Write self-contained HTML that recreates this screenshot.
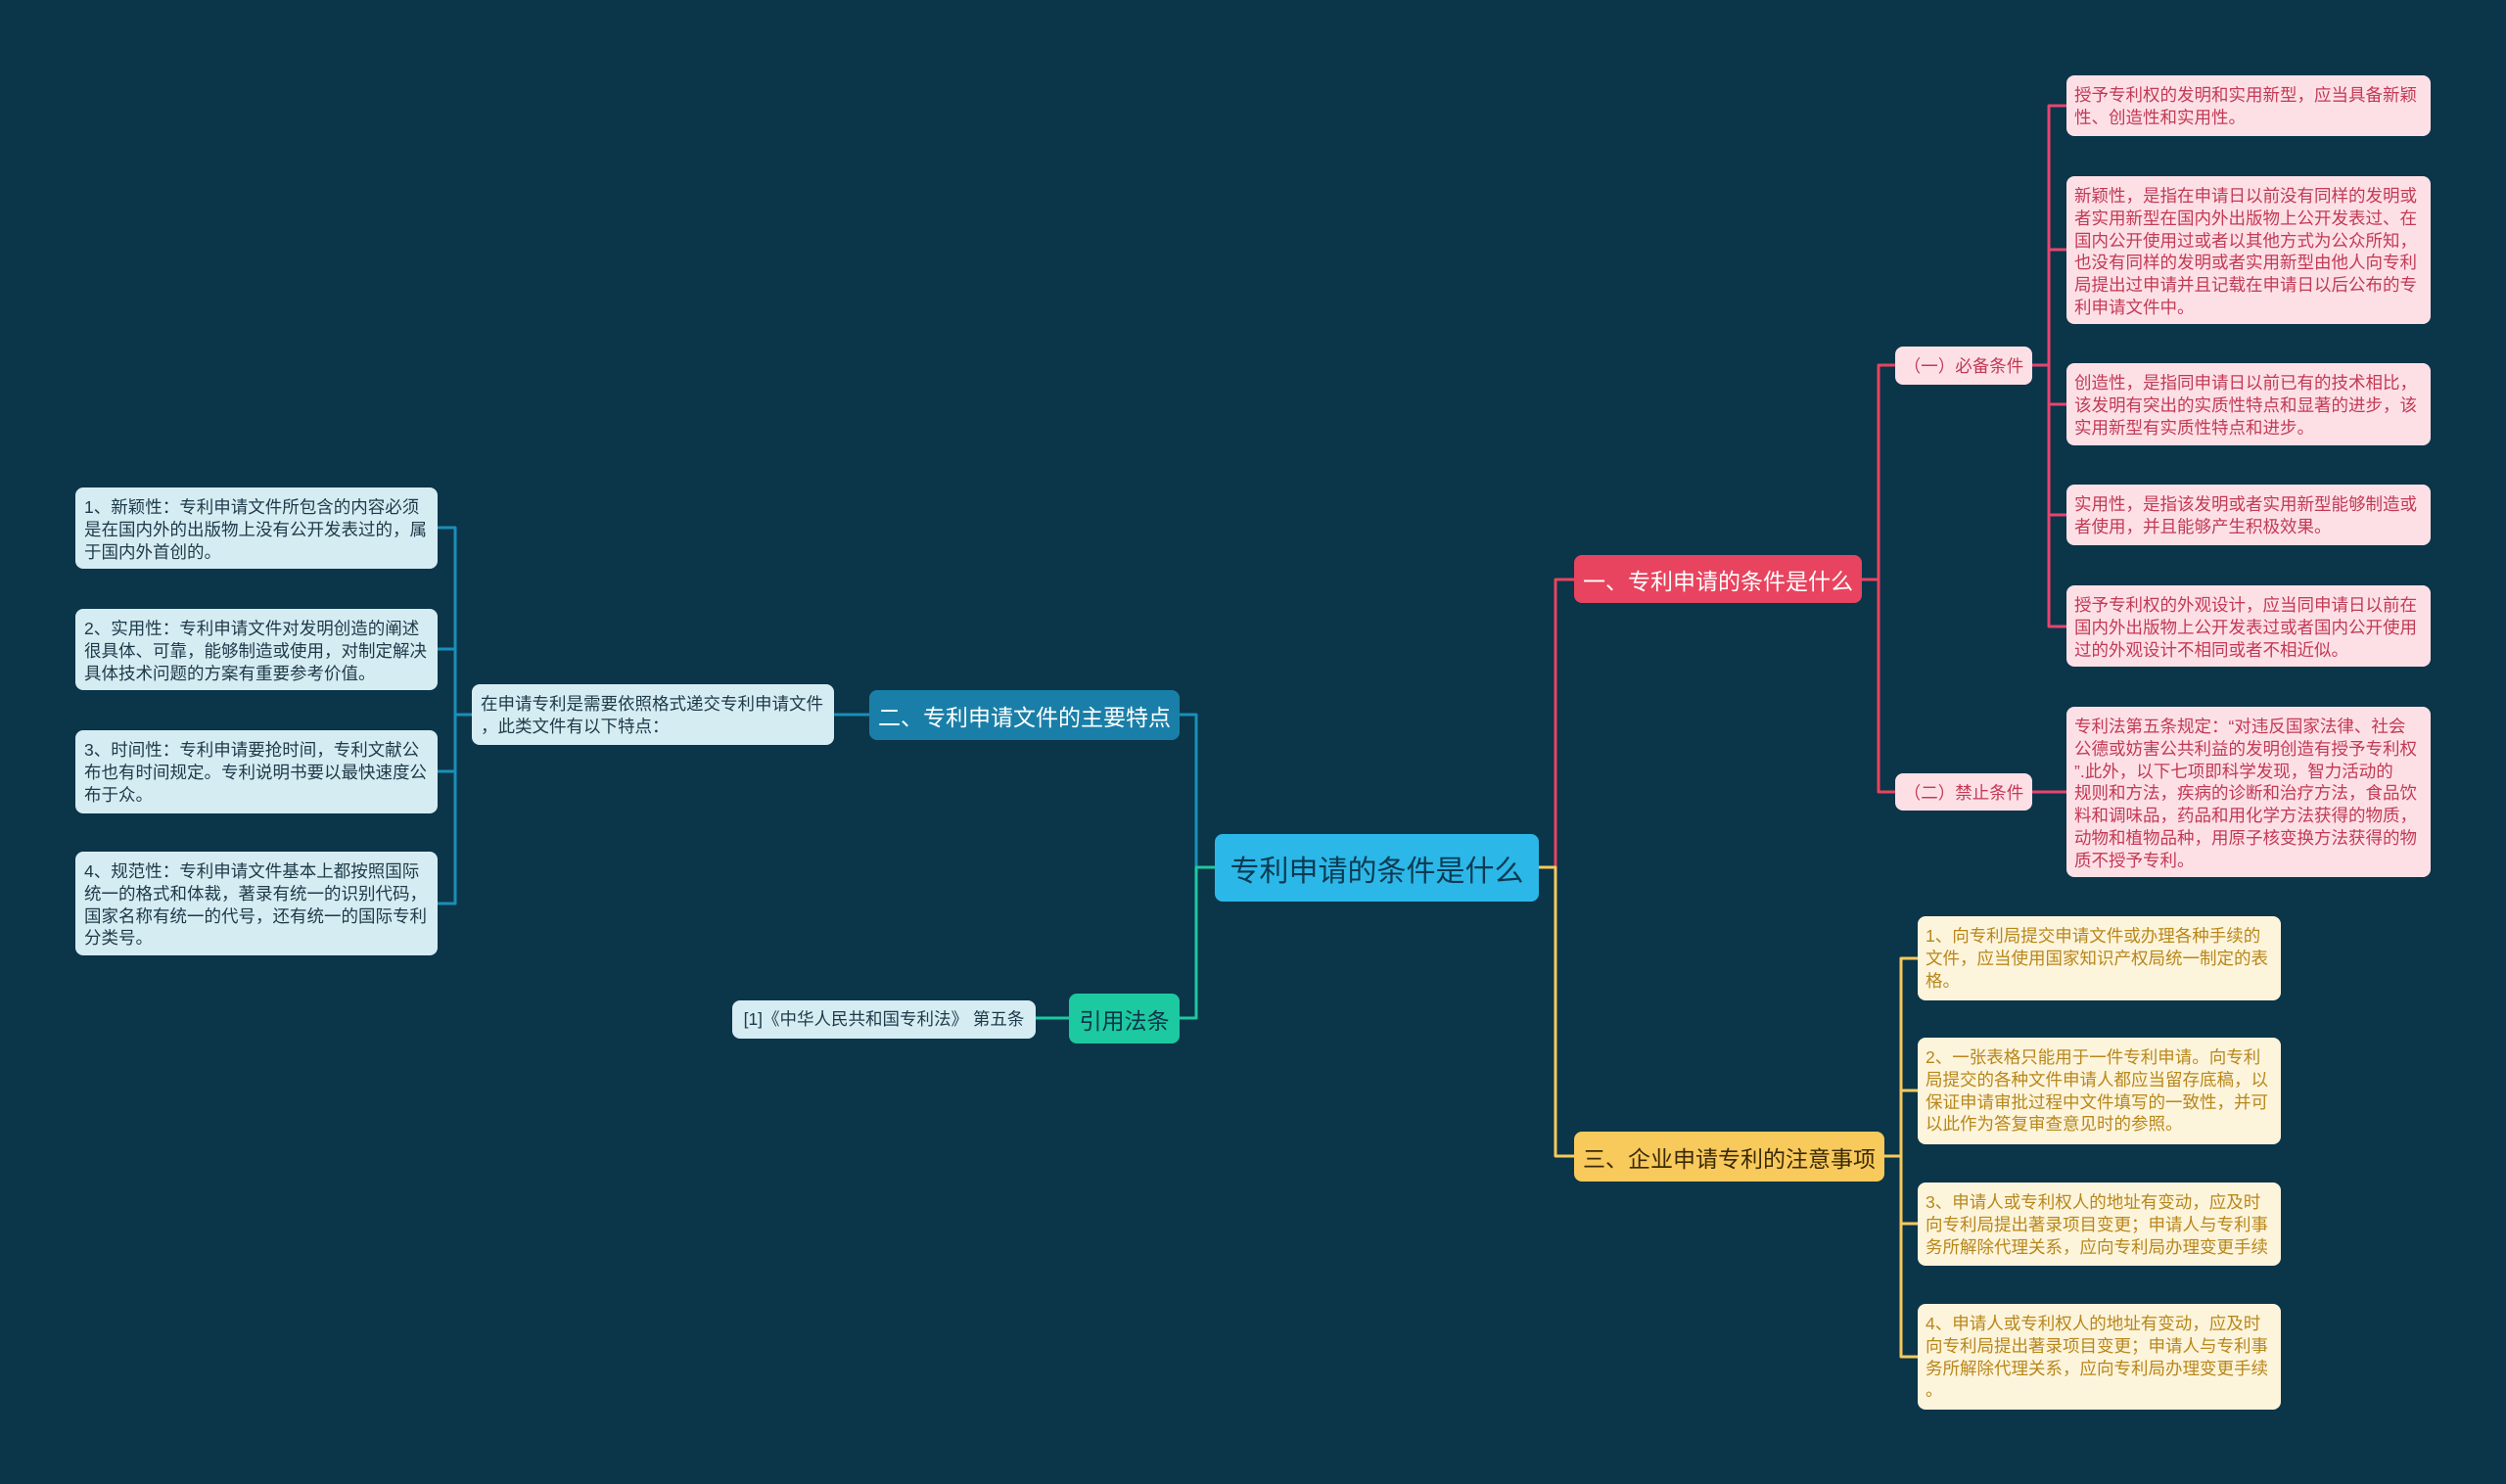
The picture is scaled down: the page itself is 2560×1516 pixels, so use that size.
<!DOCTYPE html>
<html><head><meta charset="utf-8"><style>
body{margin:0;width:2560px;height:1516px;background:#0b3549;position:relative;overflow:hidden;font-family:"Liberation Sans","Noto Sans CJK SC",sans-serif}
.n{position:absolute;box-sizing:border-box;border-radius:8px;white-space:nowrap}
.p{background:#fde0e6;color:#c23a55;font-size:17.5px;line-height:22.8px;padding:9px 8px}
.y{background:#fdf4dc;color:#b8871a;font-size:17.5px;line-height:22.8px;padding:9px 8px}
.b{background:#d6ecf3;color:#1d3a48;font-size:17.5px;line-height:22.8px;padding:9px 9px}
.m{display:flex;align-items:center;justify-content:center}
</style></head><body>
<svg width="2560" height="1516" style="position:absolute;left:0;top:0" fill="none" stroke-width="3" stroke-linejoin="round">
<polyline stroke="#e8445f" points="1572,886 1589,886 1589,592 1608,592"/>
<polyline stroke="#f8c95b" points="1572,886 1589,886 1589,1181 1608,1181"/>
<polyline stroke="#1a8fb8" points="1241,886 1222,886 1222,730 1205,730"/>
<polyline stroke="#1dc9a0" points="1241,886 1222,886 1222,1040 1205,1040"/>
<polyline stroke="#e8445f" points="1902,592 1919,592 1919,373 1936,373"/>
<polyline stroke="#e8445f" points="1902,592 1919,592 1919,809 1936,809"/>
<g stroke="#e8446f"><polyline points="2076,373 2093,373 2093,108 2111,108"/><polyline points="2093,255 2111,255"/><polyline points="2093,373 2093,640 2111,640"/><polyline points="2093,413 2111,413"/><polyline points="2093,526 2111,526"/><polyline points="2076,809 2111,809"/></g>
<g stroke="#f8c95b"><polyline points="1925,1181 1942,1181 1942,979 1959,979"/><polyline points="1942,1181 1942,1386 1959,1386"/><polyline points="1942,1114 1959,1114"/><polyline points="1942,1250 1959,1250"/></g>
<g stroke="#1a8fb8"><polyline points="888,730 852,730"/><polyline points="482,730 465,730 465,539 447,539"/><polyline points="465,730 465,923 447,923"/><polyline points="465,663 447,663"/><polyline points="465,788 447,788"/></g>
<polyline stroke="#1dc9a0" points="1092,1040 1058,1040"/>
</svg>
<div class="n m" style="left:1241px;top:852px;width:331px;height:69px;background:#2bb8e8;color:#0c3a52;font-size:30px">专利申请的条件是什么</div>
<div class="n m" style="left:1608px;top:567px;width:294px;height:49px;background:#e8445f;color:#fff;font-size:23px">一、专利申请的条件是什么</div>
<div class="n m" style="left:888px;top:705px;width:317px;height:51px;background:#1a7fa8;color:#fff;font-size:23px">二、专利申请文件的主要特点</div>
<div class="n m" style="left:1092px;top:1015px;width:113px;height:51px;background:#1dc9a0;color:#0b3549;font-size:23px">引用法条</div>
<div class="n m" style="left:1608px;top:1156px;width:317px;height:51px;background:#f8c95b;color:#3a2a05;font-size:23px">三、企业申请专利的注意事项</div>
<div class="n m" style="left:1936px;top:354px;width:140px;height:39px;background:#fde0e6;color:#c23a55;font-size:17.5px">（一）必备条件</div>
<div class="n m" style="left:1936px;top:790px;width:140px;height:38px;background:#fde0e6;color:#c23a55;font-size:17.5px">（二）禁止条件</div>
<div class="n p" style="left:2111px;top:77px;width:372px;height:62px">授予专利权的发明和实用新型，应当具备新颖<br>性、创造性和实用性。</div>
<div class="n p" style="left:2111px;top:180px;width:372px;height:151px">新颖性，是指在申请日以前没有同样的发明或<br>者实用新型在国内外出版物上公开发表过、在<br>国内公开使用过或者以其他方式为公众所知，<br>也没有同样的发明或者实用新型由他人向专利<br>局提出过申请并且记载在申请日以后公布的专<br>利申请文件中。</div>
<div class="n p" style="left:2111px;top:371px;width:372px;height:84px">创造性，是指同申请日以前已有的技术相比，<br>该发明有突出的实质性特点和显著的进步，该<br>实用新型有实质性特点和进步。</div>
<div class="n p" style="left:2111px;top:495px;width:372px;height:62px">实用性，是指该发明或者实用新型能够制造或<br>者使用，并且能够产生积极效果。</div>
<div class="n p" style="left:2111px;top:598px;width:372px;height:83px">授予专利权的外观设计，应当同申请日以前在<br>国内外出版物上公开发表过或者国内公开使用<br>过的外观设计不相同或者不相近似。</div>
<div class="n p" style="left:2111px;top:722px;width:372px;height:174px">专利法第五条规定：“对违反国家法律、社会<br>公德或妨害公共利益的发明创造有授予专利权<br>”.此外，以下七项即科学发现，智力活动的<br>规则和方法，疾病的诊断和治疗方法，食品饮<br>料和调味品，药品和用化学方法获得的物质，<br>动物和植物品种，用原子核变换方法获得的物<br>质不授予专利。</div>
<div class="n y" style="left:1959px;top:936px;width:371px;height:86px">1、向专利局提交申请文件或办理各种手续的<br>文件，应当使用国家知识产权局统一制定的表<br>格。</div>
<div class="n y" style="left:1959px;top:1060px;width:371px;height:109px">2、一张表格只能用于一件专利申请。向专利<br>局提交的各种文件申请人都应当留存底稿，以<br>保证申请审批过程中文件填写的一致性，并可<br>以此作为答复审查意见时的参照。</div>
<div class="n y" style="left:1959px;top:1208px;width:371px;height:85px">3、申请人或专利权人的地址有变动，应及时<br>向专利局提出著录项目变更；申请人与专利事<br>务所解除代理关系，应向专利局办理变更手续</div>
<div class="n y" style="left:1959px;top:1332px;width:371px;height:108px">4、申请人或专利权人的地址有变动，应及时<br>向专利局提出著录项目变更；申请人与专利事<br>务所解除代理关系，应向专利局办理变更手续<br>。</div>
<div class="n b" style="left:482px;top:699px;width:370px;height:62px">在申请专利是需要依照格式递交专利申请文件<br>，此类文件有以下特点：</div>
<div class="n b" style="left:77px;top:498px;width:370px;height:83px">1、新颖性：专利申请文件所包含的内容必须<br>是在国内外的出版物上没有公开发表过的，属<br>于国内外首创的。</div>
<div class="n b" style="left:77px;top:622px;width:370px;height:83px">2、实用性：专利申请文件对发明创造的阐述<br>很具体、可靠，能够制造或使用，对制定解决<br>具体技术问题的方案有重要参考价值。</div>
<div class="n b" style="left:77px;top:746px;width:370px;height:85px">3、时间性：专利申请要抢时间，专利文献公<br>布也有时间规定。专利说明书要以最快速度公<br>布于众。</div>
<div class="n b" style="left:77px;top:870px;width:370px;height:106px">4、规范性：专利申请文件基本上都按照国际<br>统一的格式和体裁，著录有统一的识别代码，<br>国家名称有统一的代号，还有统一的国际专利<br>分类号。</div>
<div class="n b m" style="left:748px;top:1022px;width:310px;height:39px;padding:0">[1]《中华人民共和国专利法》 第五条</div>
</body></html>
